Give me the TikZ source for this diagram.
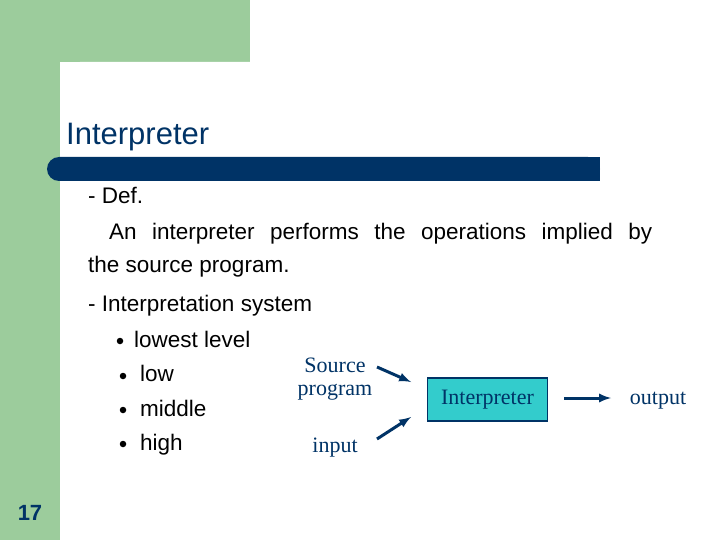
\documentclass[tikz,border=0pt]{standalone}
\usepackage{fontspec}
\setmainfont{Liberation Sans}
\newfontfamily\serifx{Liberation Serif}
\definecolor{lgreen}{RGB}{156,204,156}
\definecolor{navy}{RGB}{0,51,102}
\definecolor{teal}{RGB}{51,204,204}
\begin{document}
\begin{tikzpicture}[x=1pt,y=-1pt,
  body/.style={anchor=base west,inner sep=0,font=\fontsize{22.5}{26}\selectfont},
  dia/.style={inner sep=0,font=\serifx\fontsize{22}{23}\selectfont,text=navy},
  bul/.style={circle,fill=black,inner sep=0,minimum size=6.5pt},
  arr/.style={-latex,line width=3pt,draw=navy}]
\useasboundingbox (0,0) rectangle (720,540);
\fill[lgreen] (0,0) rectangle (250,62);
\fill[lgreen] (0,0) rectangle (60,540);
\fill[white,rounded corners=20pt] (60,62) rectangle (760,580);
\fill[navy,rounded corners=12pt] (47,157) rectangle (600,181);
\fill[navy] (300,157) rectangle (600,181);
\node[anchor=base west,inner sep=0,text=navy,font=\fontsize{31}{34}\selectfont] (title) at (66,145) {Interpreter};
\node[body] (def) at (88,204) {- Def.};
\node[body] (l1) at (109,240) {\hbox to 543pt{An\hfill interpreter\hfill performs\hfill the\hfill operations\hfill implied\hfill by}};
\node[body] (l2) at (88,272) {the source program.};
\node[body] (is) at (88,311) {- Interpretation system};
\node[bul] (b1) at (120,341) {};
\node[body] (t1) at (134,347) {lowest level};
\node[bul] (b2) at (123,376) {};
\node[body] (t2) at (140,381) {low};
\node[bul] (b3) at (123,410) {};
\node[body] (t3) at (140,416) {middle};
\node[bul] (b4) at (123,444) {};
\node[body] (t4) at (140,450) {high};
\node[dia,align=center] (src) at (335,379) {Source\\program};
\node[dia] (inp) at (335,448) {input};
\node[draw=navy,line width=1.5pt,fill=teal,minimum width=120pt,minimum height=43pt,inner sep=0,font=\serifx\fontsize{22}{23}\selectfont,text=navy] (box) at (487.5,399.5) {Interpreter};
\node[dia] (out) at (658,401) {output};
\coordinate (s1) at (377,367); \coordinate (s2) at (411,382);
\coordinate (i1) at (377,439); \coordinate (i2) at (411,417);
\coordinate (o1) at (564,398); \coordinate (o2) at (611,398);
\draw[arr] (s1) -- (s2);
\draw[arr] (i1) -- (i2);
\draw[arr] (o1) -- (o2);
\node[anchor=base,inner sep=0,text=navy,font=\bfseries\fontsize{22}{25}\selectfont] (num) at (30,520) {17};
\end{tikzpicture}
\end{document}
